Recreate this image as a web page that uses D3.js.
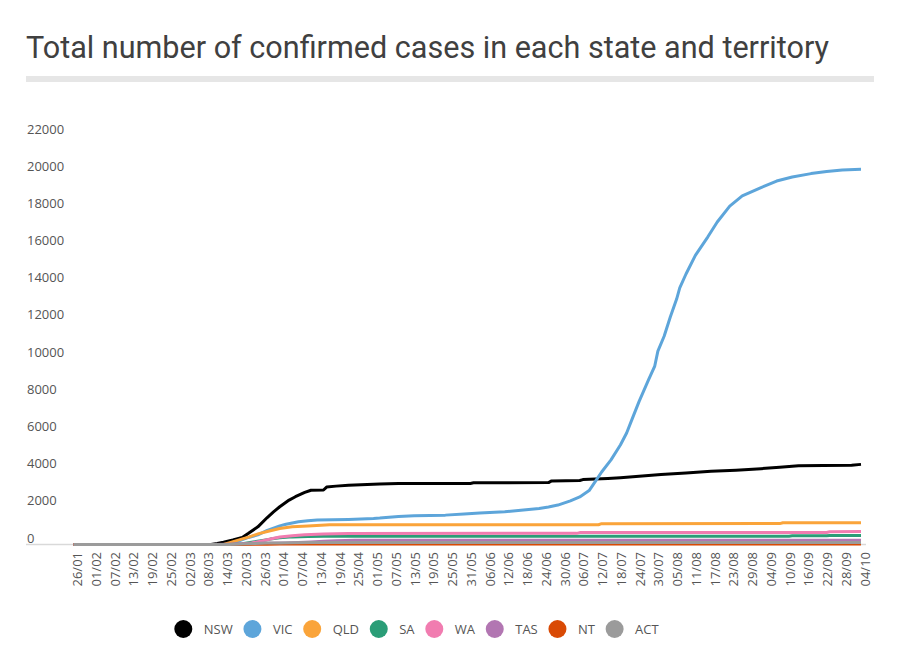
<!DOCTYPE html>
<html>
<head>
<meta charset="utf-8">
<script src="https://cdn.jsdelivr.net/npm/d3@7"></script>
<style>
  body { margin: 0; background: #fff; }
  svg { display: block; font-family: "Open Sans", sans-serif; }
</style>
</head>
<body>
<svg id="chart" width="900" height="652"></svg>
<script>
// Day offsets are counted from 26/01/2020 (day 0) to 04/10/2020 (day 252).
var startDate = new Date(2020, 0, 26);
var endDate = new Date(2020, 9, 4);

var states = ['NSW', 'VIC', 'QLD', 'SA', 'WA', 'TAS', 'NT', 'ACT'];
var stateColors = ['#000000', '#5DA5DA', '#FAA43A', '#2A9D77', '#F17CB0', '#B276B2', '#D94A05', '#9B9B9B'];

// [day offset, total confirmed cases]
var nsw = [[0,0],[44,0],[46,50],[48,120],[51,240],[54,380],[56,600],[59,950],[62,1450],[64,1750],[66,2030],[69,2390],[71,2570],[74,2800],[76,2920],[80,2930],[81,3090],[84,3140],[88,3190],[98,3250],[104,3280],[127,3285],[128,3320],[152,3330],[153,3420],[162,3440],[163,3490],[171,3550],[175,3590],[188,3760],[196,3850],[204,3940],[212,4000],[220,4080],[226,4150],[232,4240],[240,4250],[249,4265],[252,4310]];
var vic = [[0,0],[50,0],[53,200],[56,380],[59,520],[62,760],[64,880],[66,1000],[68,1090],[70,1160],[72,1220],[75,1280],[78,1315],[88,1350],[96,1400],[98,1420],[104,1510],[109,1540],[119,1580],[125,1640],[130,1700],[138,1760],[144,1850],[149,1940],[152,2020],[155,2120],[159,2350],[162,2560],[165,2900],[167,3400],[169,3900],[172,4550],[175,5350],[177,6000],[179,6850],[181,7700],[184,8850],[186,9600],[187,10400],[189,11200],[191,12250],[193,13200],[194,13800],[196,14550],[199,15550],[203,16550],[206,17350],[210,18200],[214,18750],[220,19200],[225,19550],[230,19770],[236,19950],[241,20060],[246,20150],[252,20190]];
var qld = [[0,0],[48,0],[50,100],[53,250],[56,400],[59,570],[62,700],[66,860],[70,950],[75,1000],[82,1060],[168,1065],[169,1120],[226,1125],[227,1170],[252,1175]];
var sa = [[0,0],[50,0],[54,40],[57,120],[60,200],[63,290],[66,360],[70,410],[75,430],[80,440],[229,445],[230,465],[241,468],[242,485],[252,490]];
var wa = [[0,0],[50,0],[54,30],[57,80],[60,180],[63,300],[66,400],[70,470],[74,530],[80,570],[88,595],[161,600],[162,640],[241,648],[242,690],[252,695]];
var tas = [[0,0],[44,0],[50,10],[56,40],[62,65],[68,85],[72,110],[76,140],[80,180],[84,205],[90,222],[110,228],[252,232]];
var nt = [[0,0],[50,0],[54,5],[58,12],[62,18],[66,26],[72,28],[180,31],[252,33]];
var act = [[0,0],[46,0],[50,5],[54,30],[58,55],[62,75],[66,85],[70,96],[76,103],[90,106],[165,107],[170,113],[252,113]];

var seriesValues = [nsw, vic, qld, sa, wa, tas, nt, act];

var yTicks = [0, 2000, 4000, 6000, 8000, 10000, 12000, 14000, 16000, 18000, 20000, 22000];

// Category labels: one per day, a tick label every 6 days
var days = d3.timeDay.range(startDate, d3.timeDay.offset(endDate, 1));
var dayLabels = days.map(d3.timeFormat('%d/%m'));
var tickDays = d3.range(0, days.length, 6);

var svg = d3.select('#chart');

var x = d3.scaleLinear().domain([0, days.length - 1]).range([73.5, 861]);
var y = d3.scaleLinear().domain([0, 22000]).range([544.5, 135.5]);

// Title and the grey rule under it
svg.append('text')
    .attr('x', 26)
    .attr('y', 58)
    .attr('textLength', 803)
    .attr('lengthAdjust', 'spacingAndGlyphs')
    .style('font-family', 'Roboto, sans-serif')
    .style('font-weight', 400)
    .style('font-size', '31px')
    .style('fill', '#404040')
    .text('Total number of confirmed cases in each state and territory');

svg.append('rect')
    .attr('x', 26).attr('y', 76)
    .attr('width', 848).attr('height', 6)
    .attr('fill', '#e6e6e6');

// Y axis: plain labels sitting just above their value
var yAxis = svg.append('g')
    .attr('transform', 'translate(27,0)')
    .call(d3.axisLeft(y).tickValues(yTicks).tickSize(0).tickFormat(d3.format('d')));
yAxis.select('.domain').remove();
yAxis.selectAll('text')
    .attr('x', 0)
    .attr('dy', -2.5)
    .attr('text-anchor', 'start')
    .style('font-family', '"Open Sans", sans-serif')
    .style('font-size', '13px')
    .style('fill', '#555');

// Baseline
svg.append('line')
    .attr('x1', 26).attr('x2', 866)
    .attr('y1', y(0)).attr('y2', y(0))
    .attr('stroke', '#d9d9d9')
    .attr('stroke-width', 1.5);

// X axis: rotated date labels
var xAxis = svg.append('g')
    .attr('transform', 'translate(0,' + y(0) + ')')
    .call(d3.axisBottom(x).tickValues(tickDays).tickSize(0).tickFormat(function(d){ return dayLabels[d]; }));
xAxis.select('.domain').remove();
xAxis.selectAll('text')
    .attr('transform', 'rotate(-90)')
    .attr('x', -7.5)
    .attr('y', 3.5)
    .attr('dy', '0.35em')
    .attr('text-anchor', 'end')
    .style('font-family', '"Open Sans", sans-serif')
    .style('font-size', '13px')
    .style('fill', '#555');

// Lines (ACT drawn last, on top)
var line = d3.line()
    .x(function(d){ return x(d[0]); })
    .y(function(d){ return y(d[1]); });

svg.append('g')
    .selectAll('path')
    .data(seriesValues)
    .enter()
    .append('path')
    .attr('d', line)
    .attr('fill', 'none')
    .attr('stroke', function(d, i){ return stateColors[i]; })
    .attr('stroke-width', 3)
    .attr('stroke-linejoin', 'round');

// Legend
var legend = svg.append('g').attr('transform', 'translate(0,629)');
var cx = 183.3;
states.forEach(function(s, i){
  legend.append('circle')
      .attr('cx', cx).attr('cy', 0).attr('r', 9)
      .attr('fill', stateColors[i]);
  var t = legend.append('text')
      .attr('x', cx + 20.5)
      .attr('dy', '0.35em')
      .style('font-family', '"Open Sans", sans-serif')
      .style('font-size', '13px')
      .style('fill', '#555')
      .text(s);
  cx = cx + 20.5 + t.node().getComputedTextLength() + 19.7;
});
</script>
</body>
</html>
